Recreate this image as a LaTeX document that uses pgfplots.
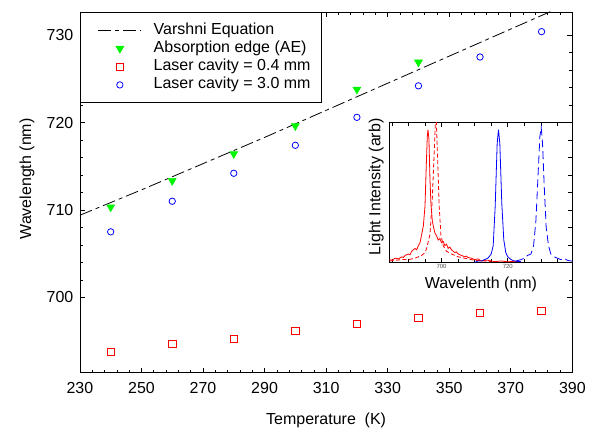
\documentclass[border=0pt]{standalone}
\usepackage{fontspec}
\setmainfont{Liberation Sans}
\usepackage{pgfplots}
\pgfplotsset{compat=1.18}
\definecolor{mgreen}{RGB}{0,245,0}
\definecolor{mred}{RGB}{255,0,0}
\definecolor{mblue}{RGB}{0,0,255}
\begin{document}
\begin{tikzpicture}
\path (-80pt,-58pt) rectangle (509pt,373pt);
\begin{axis}[
  at={(0pt,0pt)}, anchor=south west,
  scale only axis, width=493pt, height=361pt,
  xmin=230, xmax=390, ymin=691.4, ymax=732.65,
  xtick={230,250,...,390}, ytick={700,710,720,730},
  minor x tick num=4, minor y tick num=4,
  tick align=inside, major tick length=5pt, minor tick length=3pt,
  tick style={black, line width=0.6pt},
  axis line style={line width=0.8pt},
  /pgf/number format/assume math mode=true,
  /pgf/number format/1000 sep={},
  tick label style={font=\fontsize{16}{19}\selectfont},
  xticklabel style={yshift=-6pt},
  yticklabel style={xshift=-3pt},
  label style={font=\fontsize{16}{19}\selectfont},
  xlabel={Temperature\ \ (K)}, ylabel={Wavelength (nm)},
  xlabel style={at={(axis description cs:0.5,-0.133)}, anchor=center},
  ylabel style={at={(axis description cs:-0.1075,0.537)}, anchor=center},
  legend style={at={(axis description cs:0,1)}, anchor=north west, draw=black, line width=0.8pt, fill=white,
    font=\fontsize{16}{19}\selectfont, inner xsep=11pt, inner ysep=10pt, row sep=2.2pt, column sep=12pt,
    nodes={inner sep=0pt, text height=12pt, text depth=4pt}, cells={anchor=west}},
  legend cell align=left,
  legend image code/.code={\path (-6.7pt,0pt); \draw[mark repeat=2,mark phase=2,#1] plot coordinates {(0pt,0pt) (21.5pt,0pt) (43pt,0pt)};},
]
\addplot[black, line width=0.8pt, dash pattern=on 13pt off 4pt on 4pt off 4pt] coordinates {
  (230,709.4) (250,712.3) (270,715.3) (290,718.3) (310,721.4) (330,724.5) (350,727.6) (370,730.7) (390,733.8)};
\addlegendentry{Varshni Equation}
\addplot[only marks, mark=triangle*, mark size=4.6pt, mark options={rotate=180, fill=mgreen, draw=mgreen, line width=0.5pt}] coordinates {
  (240,710.33) (260,713.34) (280,716.42) (300,719.62) (320,723.8) (340,726.9)};
\addlegendentry{Absorption edge (AE)}
\addplot[only marks, mark=square, mark size=3.7pt, mark options={draw=mred, line width=0.8pt}] coordinates {
  (240,693.76) (260,694.67) (280,695.28) (300,696.2) (320,696.96) (340,697.64) (360,698.25) (380,698.44)};
\addlegendentry{Laser cavity = 0.4 mm}
\addplot[only marks, mark=o, mark size=3.2pt, mark options={draw=mblue, line width=0.8pt}] coordinates {
  (240,707.5) (260,711.0) (280,714.2) (300,717.4) (320,720.6) (340,724.2) (360,727.5) (380,730.4)};
\addlegendentry{Laser cavity = 3.0 mm}
\end{axis}
\begin{axis}[
  at={(310pt,110.3pt)}, anchor=south west,
  scale only axis, width=183pt, height=140pt,
  xmin=684.3, xmax=739.5, ymin=0, ymax=1,
  xtick={700,720}, minor xtick={685,690,...,735},
  ytick={0,0.125,...,1}, yticklabels={}, ytick pos=right,
  tick align=inside, major tick length=4pt, minor tick length=3pt,
  tick style={black, line width=0.6pt},
  axis line style={line width=0.8pt},
  axis background/.style={fill=white},
  /pgf/number format/assume math mode=true,
  /pgf/number format/1000 sep={},
  xticklabel style={font=\fontsize{6}{7}\selectfont, text=black!70, inner sep=1.5pt},
  label style={font=\fontsize{16}{19}\selectfont},
  xlabel={Wavelenth (nm)}, ylabel={Light Intensity (arb)},
  xlabel style={at={(axis description cs:0.5,-0.159)}, anchor=center},
  ylabel style={at={(axis description cs:-0.0727,0.54)}, anchor=center},
]
\addplot[mred, line width=0.8pt] coordinates {
  (684.3,0.02) (685,0.015) (686,0.03) (687,0.025) (688,0.04) (688.5,0.035) (689,0.05) (690,0.06) (690.5,0.055) (691,0.08)
  (692,0.1) (692.5,0.09) (693,0.12) (693.5,0.14) (694,0.2) (694.5,0.26) (695,0.4) (695.4,0.7) (695.7,0.9) (695.9,0.95)
  (696.2,0.88) (696.5,0.6) (696.8,0.42) (697.2,0.3) (697.6,0.25) (698,0.21) (698.5,0.19) (699,0.16) (699.5,0.17)
  (700,0.14) (700.5,0.15) (701,0.12) (701.5,0.13) (702,0.1) (702.5,0.11) (703,0.09) (704,0.07) (704.5,0.075) (705,0.06)
  (706,0.05) (707,0.04) (707.5,0.045) (708,0.035) (709,0.03) (710,0.02) (711,0.025) (712,0.01) (713,0.015) (714,0.015)
  (716,0.005) (718,0.01) (720,0.004) (722,0.008) (724,0.003)};
\addplot[mred, line width=0.8pt, dash pattern=on 4pt off 2.5pt] coordinates {
  (684.3,0.01) (686,0.015) (688,0.02) (690,0.02) (692,0.03) (693,0.04) (694,0.05) (695,0.07) (695.5,0.1) (696.5,0.2)
  (697.2,0.45) (697.8,0.8) (698.3,1.1) (698.8,0.75) (699.3,0.4) (699.8,0.2) (700.5,0.12) (701.5,0.08) (703,0.06)
  (705,0.04) (707,0.03) (710,0.015) (713,0.01) (715,0.005)};
\addplot[mblue, line width=0.8pt] coordinates {
  (710,0.0) (711,0.01) (712,0.01) (713,0.02) (714,0.03) (715,0.06) (715.6,0.12) (716.2,0.4) (716.8,0.85) (717.2,0.95)
  (717.6,0.85) (718.2,0.42) (718.8,0.16) (719.4,0.07) (720,0.04) (721,0.02) (722,0.01) (724,0.005)};
\addplot[mblue, line width=0.8pt, dash pattern=on 8pt off 4pt] coordinates {
  (722.5,0.01) (724,0.02) (725,0.03) (726,0.05) (727,0.06) (727.8,0.12) (728.5,0.3) (729.2,0.65) (729.7,0.9)
  (730.1,0.965) (730.5,0.85) (731,0.55) (731.6,0.25) (732.3,0.12) (733,0.06) (734,0.04) (735,0.03) (736,0.02)
  (737,0.03) (738,0.015) (739,0.01) (739.5,0.01)};
\end{axis}
\end{tikzpicture}
\end{document}
